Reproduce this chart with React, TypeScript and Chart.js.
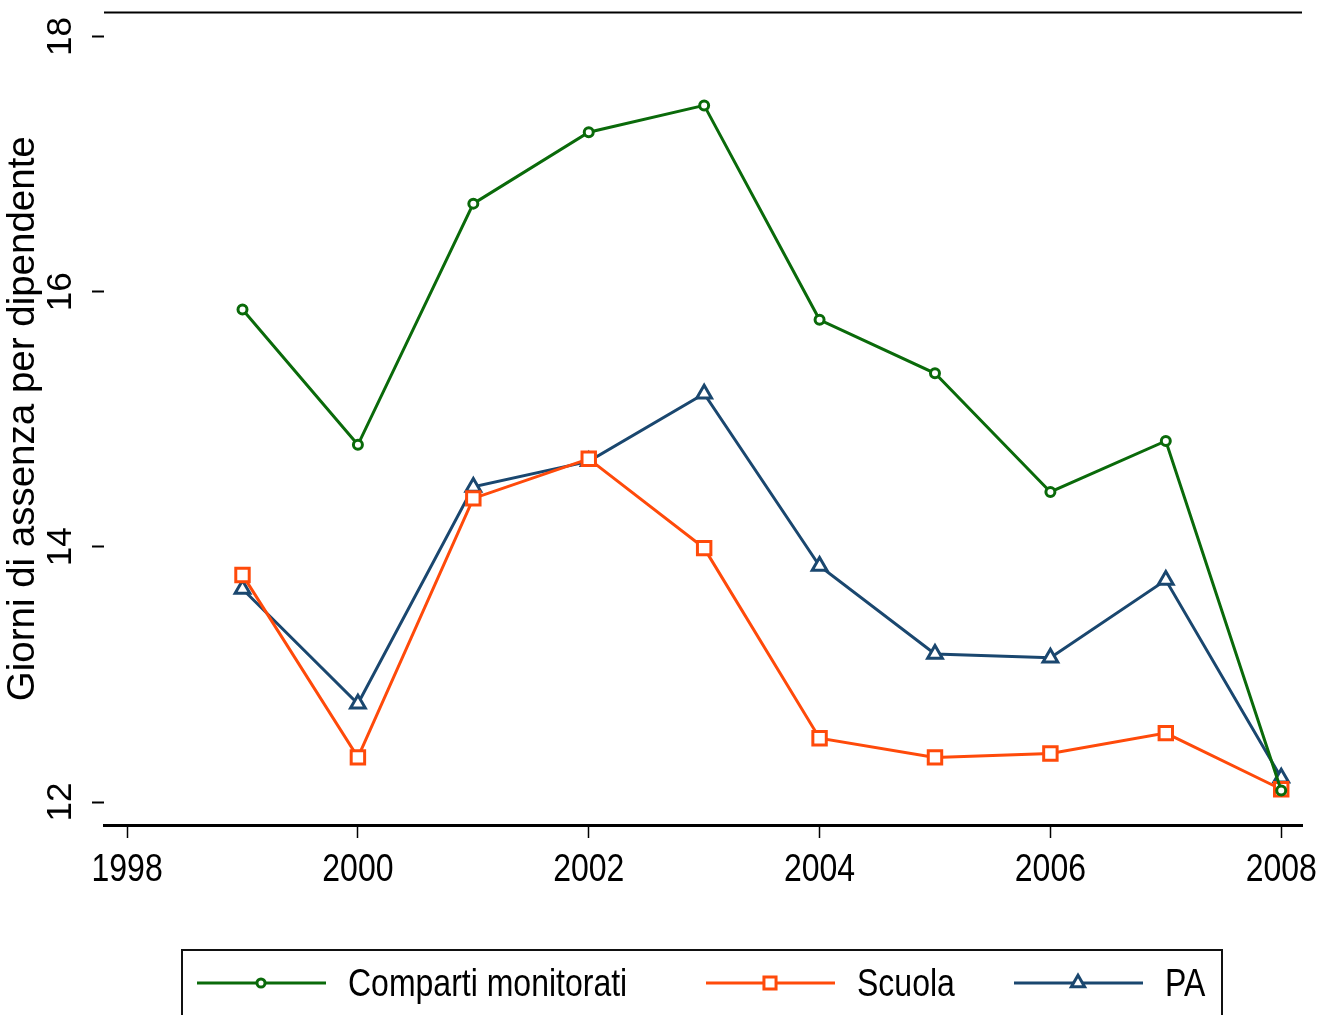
import { useEffect, useRef } from 'react';
import { Chart, registerables } from 'chart.js';

Chart.register(...registerables);

const years = [1999, 2000, 2001, 2002, 2003, 2004, 2005, 2006, 2007, 2008];
const compartiMonitorati = [15.86, 14.8, 16.69, 17.25, 17.46, 15.78, 15.36, 14.43, 14.83, 12.09];
const scuola = [13.78, 12.35, 14.38, 14.69, 13.99, 12.5, 12.35, 12.38, 12.54, 12.1];
const pa = [13.67, 12.77, 14.47, 14.67, 15.2, 13.85, 13.16, 13.13, 13.74, 12.19];
const seriesNames = ['Comparti monitorati', 'Scuola', 'PA'];
const xTicks = [1998, 2000, 2002, 2004, 2006, 2008];
const yTicks = [12, 14, 16, 18];
const yTitle = 'Giorni di assenza per dipendente';

const FONT = '"Liberation Sans", Arial, Helvetica, sans-serif';
const GREEN = '#0a6a0a';
const ORANGE = '#ff4a0a';
const BLUE = '#1a476f';
const STRETCH = 1.2;

function drawMarker(ctx: CanvasRenderingContext2D, style: string, x: number, y: number, r: number) {
  ctx.beginPath();
  if (style === 'circle') {
    ctx.arc(x, y, r, 0, Math.PI * 2);
  } else if (style === 'rect') {
    const s = Math.SQRT1_2 * r;
    ctx.rect(x - s, y - s, 2 * s, 2 * s);
  } else if (style === 'triangle') {
    for (let k = 0; k < 3; k++) {
      const a = -Math.PI / 2 + (k * 2 * Math.PI) / 3;
      const px = x + Math.cos(a) * r;
      const py = y + Math.sin(a) * r;
      if (k === 0) ctx.moveTo(px, py);
      else ctx.lineTo(px, py);
    }
    ctx.closePath();
  }
  ctx.fillStyle = '#fff';
  ctx.fill();
  ctx.stroke();
}

function stretchedText(ctx: CanvasRenderingContext2D, text: string, x: number, y: number, align: CanvasTextAlign) {
  ctx.save();
  ctx.translate(x, y);
  ctx.scale(1, STRETCH);
  ctx.textAlign = align;
  ctx.textBaseline = 'middle';
  ctx.fillText(text, 0, 0);
  ctx.restore();
}

const framePlugin = {
  id: 'frame',
  afterDraw(chart: any) {
    const { ctx, chartArea, scales } = chart;
    ctx.save();
    // top frame line
    ctx.strokeStyle = '#000';
    ctx.lineWidth = 2;
    ctx.beginPath();
    ctx.moveTo(chartArea.left, chartArea.top);
    ctx.lineTo(chartArea.right, chartArea.top);
    ctx.stroke();

    // rotated y tick labels
    const ys = scales.y;
    ctx.font = `35px ${FONT}`;
    ctx.fillStyle = '#000';
    ctx.textAlign = 'center';
    ctx.textBaseline = 'middle';
    ys.ticks.forEach((t: any) => {
      const py = ys.getPixelForValue(t.value);
      ctx.save();
      ctx.translate(61, py);
      ctx.rotate(-Math.PI / 2);
      ctx.fillText(String(t.value), 0, 0);
      ctx.restore();
    });

    // x tick labels (vertically stretched like the original)
    const xs = scales.x;
    ctx.font = `32px ${FONT}`;
    xs.ticks.forEach((t: any) => {
      const px = xs.getPixelForValue(t.value);
      stretchedText(ctx, String(t.value), px, 870, 'center');
    });

    // legend box
    ctx.strokeStyle = '#111';
    ctx.lineWidth = 2;
    ctx.strokeRect(182, 950, 1040, 90);
    const starts = [197, 706, 1014];
    const ly = 983;
    chart.data.datasets.forEach((ds: any, i: number) => {
      const sx = starts[i];
      ctx.strokeStyle = ds.borderColor;
      ctx.lineWidth = ds.borderWidth;
      ctx.beginPath();
      ctx.moveTo(sx, ly);
      ctx.lineTo(sx + 129, ly);
      ctx.stroke();
      ctx.lineWidth = ds.pointBorderWidth;
      drawMarker(ctx, ds.pointStyle, sx + 64, ly, ds.pointRadius * 0.9);
      ctx.font = `32px ${FONT}`;
      ctx.fillStyle = '#000';
      stretchedText(ctx, ds.label, sx + 151, ly + 2, 'left');
    });
    ctx.restore();
  },
};

export default function App() {
  const ref = useRef<HTMLCanvasElement | null>(null);
  useEffect(() => {
    document.body.style.margin = '0';
    const canvas = ref.current;
    if (!canvas) return;
    const mk = (vals: number[]) => years.map((x, i) => ({ x, y: vals[i] }));
    const base = {
      backgroundColor: '#fff',
      borderWidth: 3,
      pointBorderWidth: 3,
      pointBackgroundColor: '#fff',
    };
    const chart = new Chart(canvas, {
      type: 'line',
      data: {
        datasets: [
          {
            ...base,
            label: seriesNames[0],
            data: mk(compartiMonitorati),
            borderColor: GREEN,
            pointStyle: 'circle',
            pointRadius: 4.5,
            pointBorderColor: GREEN,
          },
          {
            ...base,
            label: seriesNames[1],
            data: mk(scuola),
            borderColor: ORANGE,
            pointStyle: 'rect',
            pointRadius: 9.5,
            pointBorderColor: ORANGE,
          },
          {
            ...base,
            label: seriesNames[2],
            data: mk(pa),
            borderColor: BLUE,
            pointStyle: 'triangle',
            pointRadius: 8.5,
            pointBorderColor: BLUE,
          },
        ] as any,
      },
      options: {
        animation: false,
        responsive: false,
        layout: { padding: { top: 12, right: 22, left: 0, bottom: 0 } },
        plugins: { legend: { display: false }, tooltip: { enabled: false } },
        scales: {
          x: {
            type: 'linear',
            min: 1997.8,
            max: 2008.18,
            afterBuildTicks: (s: any) => {
              s.ticks = xTicks.map((v) => ({ value: v }));
            },
            afterFit: (s: any) => {
              s.height = 190;
            },
            grid: {
              display: true,
              drawOnChartArea: false,
              drawTicks: true,
              tickLength: 13,
              tickWidth: 1.5,
              tickColor: '#000',
              color: '#000',
            },
            border: { display: true, width: 3, color: '#000' },
            ticks: { display: false },
          },
          y: {
            type: 'linear',
            min: 11.82,
            max: 18.188,
            afterBuildTicks: (s: any) => {
              s.ticks = yTicks.map((v) => ({ value: v }));
            },
            afterFit: (s: any) => {
              s.width = 104;
            },
            grid: {
              display: true,
              drawOnChartArea: false,
              drawTicks: true,
              tickLength: 12,
              tickWidth: 2,
              tickColor: '#000',
              color: '#000',
            },
            border: { display: false },
            ticks: { display: false },
            title: {
              display: true,
              text: yTitle,
              font: { family: FONT, size: 38.5 },
              color: '#000',
              padding: { top: 0, bottom: 0 },
            },
          },
        },
      } as any,
      plugins: [framePlugin],
    });
    return () => chart.destroy();
  }, []);
  return <canvas ref={ref} width={1324} height={1015} style={{ display: 'block' }} />;
}
